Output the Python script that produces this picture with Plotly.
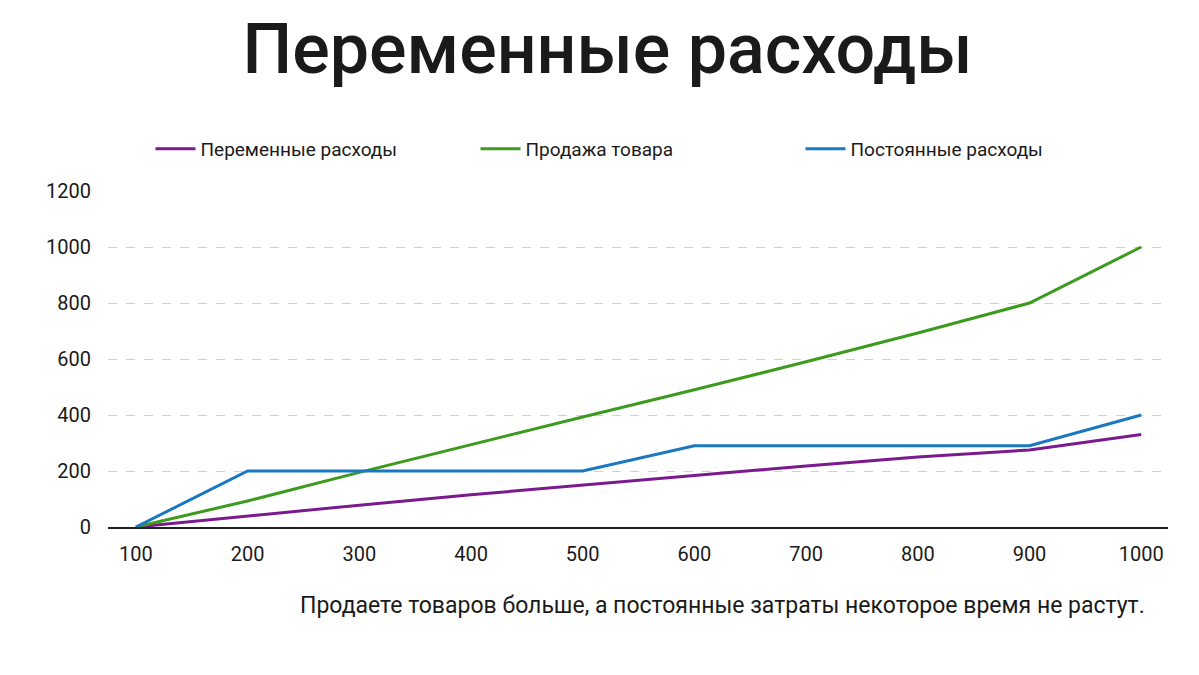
import plotly.graph_objects as go

x_vals = [100, 200, 300, 400, 500, 600, 700, 800, 900, 1000]
peremennye = [0, 40, 78, 115, 150, 185, 218, 250, 275, 330]
prodazha = [0, 93, 195, 295, 393, 490, 590, 693, 800, 1000]
postoyannye = [0, 200, 200, 200, 200, 290, 290, 290, 290, 400]

fig = go.Figure()
fig.add_trace(go.Scatter(x=x_vals, y=peremennye, mode="lines", name="Переменные расходы",
                         line=dict(color="#7b1a8f", width=3)))
fig.add_trace(go.Scatter(x=x_vals, y=prodazha, mode="lines", name="Продажа товара",
                         line=dict(color="#3c9a1c", width=3)))
fig.add_trace(go.Scatter(x=x_vals, y=postoyannye, mode="lines", name="Постоянные расходы",
                         line=dict(color="#1a78c2", width=3)))

fig.update_layout(
    width=1199, height=675,
    paper_bgcolor="white", plot_bgcolor="white",
    font=dict(family="Roboto", color="#1a1a1a", size=20),
    title=dict(text="Переменные расходы", x=0.5, y=0.94, xanchor="center", yanchor="middle",
               font=dict(size=70, color="#1a1a1a", weight=500)),
    margin=dict(l=100, r=39, t=183, b=156, autoexpand=False),
    legend=dict(orientation="h", x=0.5, xanchor="center", y=1.125, yanchor="middle",
                font=dict(size=19), itemwidth=40, entrywidth=270),
    showlegend=True,
    annotations=[dict(text="Продаете товаров больше, а постоянные затраты некоторое время не растут.",
                      x=0.58, y=-0.28, xref="paper", yref="paper", showarrow=False,
                      xanchor="center", font=dict(size=23, color="#1a1a1a"))],
)
fig.update_xaxes(range=[75, 1024], tickvals=x_vals, showgrid=False, zeroline=False, automargin=False,
                 showline=True, linecolor="#222", linewidth=1.5, ticks="", ticklabelstandoff=8)
fig.update_yaxes(range=[0, 1200], tickvals=[0, 200, 400, 600, 800, 1000, 1200], automargin=False,
                 showgrid=True, gridcolor="#d0d0d0", griddash="dash", zeroline=False,
                 ticks="", ticklabelstandoff=16)

fig.write_html("out.html")
